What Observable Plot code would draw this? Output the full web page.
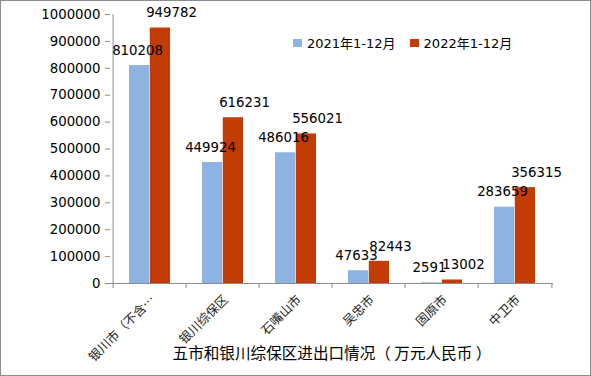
<!DOCTYPE html>
<html>
<head>
<meta charset="utf-8">
<script src="https://cdn.jsdelivr.net/npm/d3@7"></script>
<script src="https://cdn.jsdelivr.net/npm/@observablehq/plot@0.6"></script>
<style>
  html, body { margin: 0; padding: 0; background: #fff; }
  #wrap { position: relative; width: 591px; height: 376px; }
  #border { position: absolute; left: 0; top: 0; width: 589px; height: 374px; border: 1px solid #8c8c8c; pointer-events: none; }
  #legend { position: absolute; left: 293px; top: 33px; display: flex; gap: 0; font: 13px "DejaVu Sans", "Noto Sans CJK SC", sans-serif; color: #000; }
  .item { display: flex; align-items: center; margin-right: 14px; }
  .sw { width: 9px; height: 8px; margin-right: 5px; }
  svg { display: block; }
</style>
</head>
<body>
<div id="wrap">
  <div id="chart"></div>
  <div id="legend"></div>
  <div id="border"></div>
</div>
<script>
const categories = ["银川市（不含综保区）", "银川综保区", "石嘴山市", "吴忠市", "固原市", "中卫市"];
const series = ["2021年1-12月", "2022年1-12月"];
const values2021 = [810208, 449924, 486016, 47633, 2591, 283659];
const values2022 = [949782, 616231, 556021, 82443, 13002, 356315];
const yTicks = [0, 100000, 200000, 300000, 400000, 500000, 600000, 700000, 800000, 900000, 1000000];
const title = "五市和银川综保区进出口情况（ 万元人民币 ）";
const colors = ["#8db3e2", "#c33b05"];

const d2021 = categories.map((c, i) => ({category: c, value: values2021[i], series: series[0]}));
const d2022 = categories.map((c, i) => ({category: c, value: values2022[i], series: series[1]}));

const fontFam = '"DejaVu Sans", "Noto Sans CJK SC", sans-serif';
const cjkFam = '"Noto Sans CJK SC", "DejaVu Sans", sans-serif';
const axisGray = "#8c8c8c";
const half = 443 / 6 / 2;

const chart = Plot.plot({
  width: 591,
  height: 376,
  marginLeft: 110,
  marginRight: 38,
  marginTop: 14,
  marginBottom: 93,
  style: {fontFamily: fontFam, fontSize: "13px", background: "transparent"},
  x: {domain: categories, padding: 0, axis: null},
  y: {domain: [0, 1000000], axis: null},
  marks: [
    Plot.barY(d2021, {x: "category", y: "value", fill: colors[0], insetLeft: 16, insetRight: 36.8}),
    Plot.barY(d2022, {x: "category", y: "value", fill: colors[1], insetLeft: 36.8, insetRight: 16}),
    Plot.ruleY([0], {stroke: axisGray}),
    Plot.ruleX([categories[0]], {x: d => d, y1: 1000000, y2: 0, dx: -half, insetBottom: -5, stroke: axisGray}),
    Plot.ruleX(categories.slice(1), {x: d => d, y1: 0, y2: 0, dx: -half, insetBottom: -5, stroke: axisGray}),
    Plot.ruleX([categories[categories.length - 1]], {x: d => d, y1: 0, y2: 0, dx: half, insetBottom: -5, stroke: axisGray}),
    Plot.axisY({ticks: yTicks, tickSize: 5, tickPadding: 5, tickFormat: d3.format("d"), stroke: axisGray, fill: "#000", fontSize: 13.3, label: null}),
    Plot.axisX({
      tickSize: 0, tickPadding: 14, tickRotate: -45, label: null, fontSize: 12.5, fill: "#222",
      fontFamily: cjkFam, dx: 3,
      tickFormat: d => d.length > 6 ? d.slice(0, 6) + "…" : d
    }),
    Plot.text(d2021, {x: "category", y: "value", text: d => String(d.value), dx: -12.5, dy: -15, fontSize: 13.3, fill: "#000"}),
    Plot.text(d2022, {x: "category", y: "value", text: d => String(d.value), dx: 21.5, dy: -15, fontSize: 13.3, fill: "#000"}),
    Plot.text([title], {frameAnchor: "bottom", text: d => d, dy: 75, fontSize: 15.6, fill: "#000", fontFamily: cjkFam})
  ]
});
document.getElementById("chart").appendChild(chart);

const legend = document.getElementById("legend");
series.forEach((s, i) => {
  const item = document.createElement("div");
  item.className = "item";
  const sw = document.createElement("div");
  sw.className = "sw";
  sw.style.background = colors[i];
  const t = document.createElement("span");
  t.textContent = s;
  item.appendChild(sw);
  item.appendChild(t);
  legend.appendChild(item);
});
</script>
</body>
</html>
